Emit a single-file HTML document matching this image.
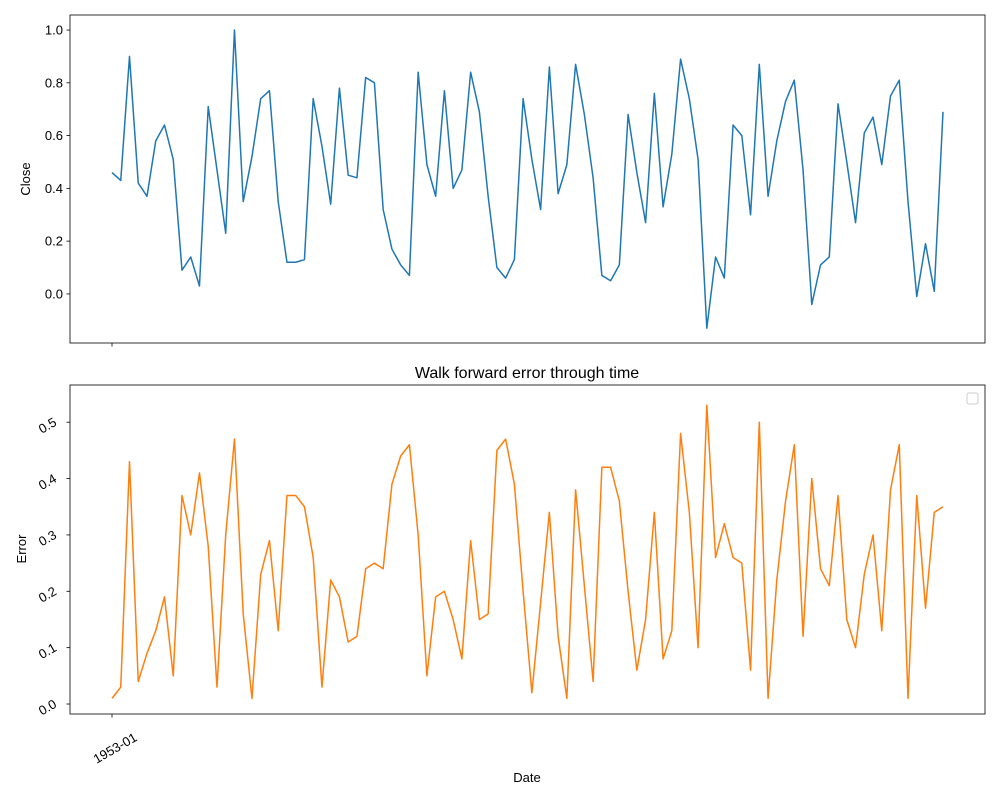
<!DOCTYPE html>
<html><head><meta charset="utf-8"><style>
html,body{margin:0;padding:0;background:#fff;}
text{font-family:"Liberation Sans","DejaVu Sans",sans-serif;font-size:13px;fill:#000;}
</style></head><body>
<svg id="chart" width="1000" height="800" xmlns="http://www.w3.org/2000/svg">
<rect x="0" y="0" width="1000" height="800" fill="#fff"/>
<g id="top"></g>
<g id="bot"></g>
</svg>
<script>
const closeValues=[0.46,0.43,0.90,0.42,0.37,0.58,0.64,0.51,0.09,0.14,0.03,0.71,0.47,0.23,1.00,0.35,0.52,0.74,0.77,0.35,0.12,0.12,0.13,0.74,0.56,0.34,0.78,0.45,0.44,0.82,0.80,0.32,0.17,0.11,0.07,0.84,0.49,0.37,0.77,0.40,0.47,0.84,0.69,0.37,0.10,0.06,0.13,0.74,0.51,0.32,0.86,0.38,0.49,0.87,0.68,0.44,0.07,0.05,0.11,0.68,0.46,0.27,0.76,0.33,0.53,0.89,0.74,0.51,-0.13,0.14,0.06,0.64,0.60,0.30,0.87,0.37,0.58,0.73,0.81,0.47,-0.04,0.11,0.14,0.72,0.50,0.27,0.61,0.67,0.49,0.75,0.81,0.35,-0.01,0.19,0.01,0.69];
const errorValues=[0.01,0.03,0.43,0.04,0.09,0.13,0.19,0.05,0.37,0.30,0.41,0.28,0.03,0.30,0.47,0.16,0.01,0.23,0.29,0.13,0.37,0.37,0.35,0.26,0.03,0.22,0.19,0.11,0.12,0.24,0.25,0.24,0.39,0.44,0.46,0.30,0.05,0.19,0.20,0.15,0.08,0.29,0.15,0.16,0.45,0.47,0.39,0.20,0.02,0.18,0.34,0.12,0.01,0.38,0.21,0.04,0.42,0.42,0.36,0.20,0.06,0.15,0.34,0.08,0.13,0.48,0.34,0.10,0.53,0.26,0.32,0.26,0.25,0.06,0.50,0.01,0.22,0.36,0.46,0.12,0.40,0.24,0.21,0.37,0.15,0.10,0.23,0.30,0.13,0.38,0.46,0.01,0.37,0.17,0.34,0.35];
const closeTicks=[0.0,0.2,0.4,0.6,0.8,1.0];
const errorTicks=[0.0,0.1,0.2,0.3,0.4,0.5];
const xTickLabels=["1953-01"];

const NS="http://www.w3.org/2000/svg";
function mk(p,tag,attrs,txt){const e=document.createElementNS(NS,tag);for(const k in attrs)e.setAttribute(k,attrs[k]);if(txt!==undefined)e.textContent=txt;p.appendChild(e);return e;}
const L=70,R=985;
function xs(i,n){return 112+i*(943-112)/(n-1);}
function panel(g,top,bot,ymin,ymax,vals,ticks,color,rot,name){
  const ys=v=>bot-(v-ymin)/(ymax-ymin)*(bot-top);
  const n=vals.length;
  const d=vals.map((v,i)=>(i?'L':'M')+xs(i,n).toFixed(2)+','+ys(v).toFixed(2)).join(' ');
  const line=mk(g,'path',{d:d,fill:'none',stroke:color,'stroke-width':1.5,'stroke-linejoin':'round'});
  
  
  ticks.forEach(t=>{
    const y=ys(t);
    mk(g,'line',{x1:L-3.5,x2:L,y1:y,y2:y,stroke:'#000','stroke-width':0.8});
    const lab=rot?mk(g,'text',{x:L-14,y:y+3,'text-anchor':'end',transform:'rotate(-30 '+(L-14)+' '+y+')'},t.toFixed(1))
                 :mk(g,'text',{x:L-7,y:y+4.5,'text-anchor':'end'},t.toFixed(1));
    
    
  });
  mk(g,'line',{x1:112,x2:112,y1:bot,y2:bot+3.5,stroke:'#000','stroke-width':0.8});
  const fr=mk(g,'rect',{x:L,y:top,width:R-L,height:bot-top,fill:'none',stroke:'#000','stroke-width':0.8});
  
  
}
const tg=document.getElementById('top'),bg=document.getElementById('bot');
panel(tg,15,343,-0.186,1.057,closeValues,closeTicks,'#1f77b4',false,'close');
panel(bg,385,714,-0.0177,0.566,errorValues,errorTicks,'#ff7f0e',true,'error');
let t=mk(tg,'text',{x:30,y:179,'text-anchor':'middle',transform:'rotate(-90 30 179)'},'Close');

t=mk(bg,'text',{x:26,y:549,'text-anchor':'middle',transform:'rotate(-90 26 549)'},'Error');

t=mk(bg,'text',{x:527,y:378,'text-anchor':'middle',style:'font-size:16px'},'Walk forward error through time');

t=mk(bg,'text',{x:527,y:782,'text-anchor':'middle'},'Date');

t=mk(bg,'text',{x:138,y:740,'text-anchor':'end',transform:'rotate(-30 138 740)'},xTickLabels[0]);

const lg=mk(bg,'rect',{x:967,y:393,width:11,height:11,rx:2,fill:'#fff',stroke:'#ccc','stroke-width':1});

</script>
</body></html>
